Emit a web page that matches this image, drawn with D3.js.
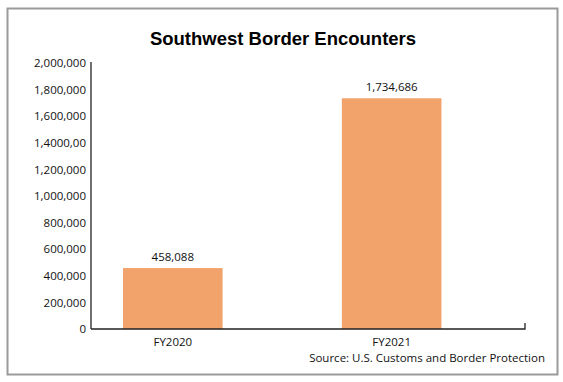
<!DOCTYPE html>
<html>
<head>
<meta charset="utf-8">
<script src="https://cdn.jsdelivr.net/npm/d3@7"></script>
<style>
  body { margin: 0; background: #fff; }
  svg text { font-family: "Open Sans", sans-serif; fill: #111; }
</style>
</head>
<body>
<div class="chart"></div>
<script>
// data
const categories = ['FY2020', 'FY2021'];
const encounters = [458088, 1734686];
const yTickValues = [0, 200000, 400000, 600000, 800000, 1000000, 1200000, 1400000, 1600000, 1800000, 2000000];
// the original chart has the typo on 1,400,000 - keep it
const yTickLabels = ['0', '200,000', '400,000', '600,000', '800,000', '1,000,000', '1,200,000', '1,4000,00', '1,600,000', '1,800,000', '2,000,000'];

const svg_width = 563;
const svg_height = 382;
const plot = { left: 91, right: 525, top: 63, bottom: 329 };

const svg = d3.select('.chart').append('svg')
    .attr('width', svg_width).attr('height', svg_height);

// outer frame
svg.append('rect')
    .attr('x', 7.5).attr('y', 8.5)
    .attr('width', 550).attr('height', 366)
    .style('fill', 'none').style('stroke', '#9a9a9a').style('stroke-width', 2);

// title
svg.append('text')
    .attr('x', 283).attr('y', 45)
    .attr('text-anchor', 'middle')
    .style('font-family', '"Liberation Sans", Arial, sans-serif')
    .style('font-weight', 'bold').style('font-size', '18.5px')
    .style('fill', '#000')
    .text('Southwest Border Encounters');

// scales
const xScale = d3.scaleBand().domain(categories)
    .range([plot.left, plot.right])
    .paddingInner(0.545).paddingOuter(0.264).align(0.277);
const yScale = d3.scaleLinear().domain([0, 2000000]).range([plot.bottom, plot.top]);

// bars
svg.selectAll('.bar')
    .data(categories)
    .enter()
    .append('rect')
    .attr('class', 'bar')
    .attr('x', d => xScale(d))
    .attr('width', xScale.bandwidth())
    .attr('y', (d, i) => yScale(encounters[i]))
    .attr('height', (d, i) => yScale(0) - yScale(encounters[i]))
    .style('fill', '#f2a26b');

// value labels
svg.selectAll('.value-label')
    .data(categories)
    .enter()
    .append('text')
    .attr('class', 'value-label')
    .attr('x', d => xScale(d) + xScale.bandwidth() / 2)
    .attr('y', (d, i) => yScale(encounters[i]) - 7)
    .attr('text-anchor', 'middle')
    .style('font-size', '11.5px')
    .text((d, i) => d3.format(',')(encounters[i]));

// y axis
const yAxis = d3.axisLeft(yScale)
    .tickValues(yTickValues)
    .tickFormat((d, i) => yTickLabels[i])
    .tickSize(0).tickPadding(5);
const yAxisDraw = svg.append('g').attr('class', 'y axis')
    .attr('transform', `translate(${plot.left},0)`)
    .call(yAxis);
yAxisDraw.select('.domain').attr('d', `M0,${plot.top - 1}V${plot.bottom}`)
    .style('stroke', '#222').style('stroke-width', 1.3);
yAxisDraw.selectAll('text').style('font-size', '11.5px').style('font-family', '"Open Sans", sans-serif');

// x axis
const xAxis = d3.axisBottom(xScale).tickSize(0).tickPadding(9);
const xAxisDraw = svg.append('g').attr('class', 'x axis')
    .attr('transform', `translate(0,${plot.bottom})`)
    .call(xAxis);
xAxisDraw.select('.domain')
    .attr('d', `M${plot.left},0H${plot.right}V-6`)
    .style('fill', 'none').style('stroke', '#222').style('stroke-width', 1.3);
xAxisDraw.selectAll('text').style('font-size', '11.5px').style('font-family', '"Open Sans", sans-serif');

// source
svg.append('text')
    .attr('x', 545).attr('y', 362)
    .attr('text-anchor', 'end')
    .style('font-size', '11.5px')
    .text('Source: U.S. Customs and Border Protection');
</script>
</body>
</html>
